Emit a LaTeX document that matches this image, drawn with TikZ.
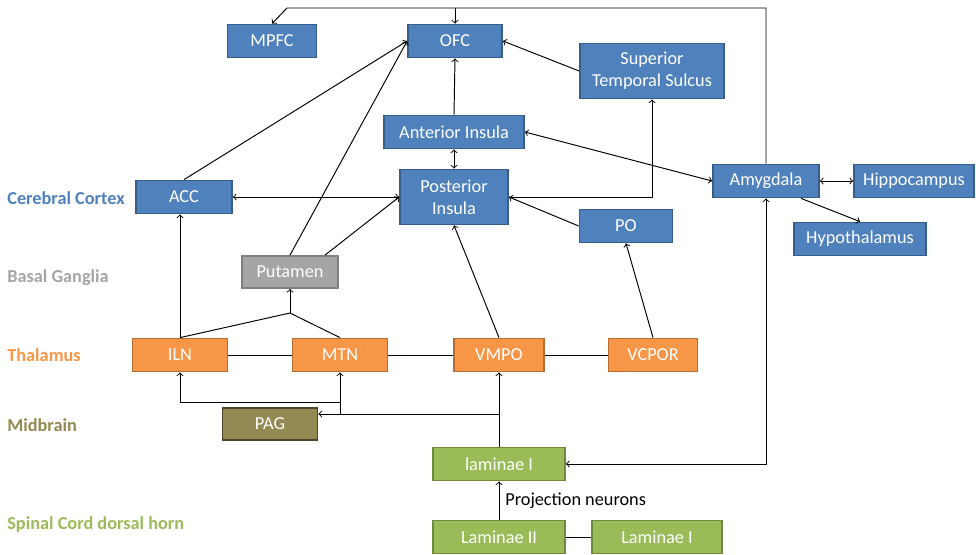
\documentclass[tikz,border=0pt]{standalone}
\usepackage{fontspec}
\setmainfont{Carlito}
\usetikzlibrary{calc}

\definecolor{cortexfill}{HTML}{4F81BD}
\definecolor{cortexline}{HTML}{385D8A}
\definecolor{gangfill}{HTML}{A5A5A5}
\definecolor{gangline}{HTML}{7F7F7F}
\definecolor{thalfill}{HTML}{F79646}
\definecolor{thalline}{HTML}{B66D31}
\definecolor{midfill}{HTML}{938953}
\definecolor{midline}{HTML}{4A452A}
\definecolor{spinefill}{HTML}{9BBB59}
\definecolor{spineline}{HTML}{71893F}

\tikzset{
  box/.style={rectangle, text=white, line width=1pt, inner sep=1pt,
    minimum height=0.66cm, align=center,
    font=\fontsize{10.4}{12.5}\selectfont},
  cortex/.style={box, fill=cortexfill, draw=cortexline},
  ganglia/.style={box, fill=gangfill, draw=gangline},
  thal/.style={box, fill=thalfill, draw=thalline},
  midb/.style={box, fill=midfill, draw=midline},
  spine/.style={box, fill=spinefill, draw=spineline},
  level/.style={anchor=west, inner sep=0pt, font=\fontsize{10.4}{12.5}\selectfont\bfseries},
  link/.style={line width=0.55pt, >=to},
}

\begin{document}
\begin{tikzpicture}[x=0.02cm, y=-0.02cm]
  \useasboundingbox (0,0) rectangle (976,554);

  % levels
  \node[level, text=cortexfill] (lcortex) at (7,198) {Cerebral Cortex};
  \node[level, text=gangfill] (lgang) at (7,278) {Basal Ganglia};
  \node[level, text=thalfill] (lthal) at (7,355) {Thalamus};
  \node[level, text=midfill] (lmid) at (7,425) {Midbrain};
  \node[level, text=spinefill] (lspine) at (7,525) {Spinal Cord dorsal horn};

  % cortex
  \node[cortex, minimum width=1.78cm] (mpfc) at (272,41) {MPFC};
  \node[cortex, minimum width=1.88cm] (ofc) at (455,41) {OFC};
  \node[cortex, minimum width=2.88cm, minimum height=1.1cm] (sts) at (652,71) {Superior\\Temporal Sulcus};
  \node[cortex, minimum width=2.8cm] (ai) at (454,132) {Anterior Insula};
  \node[cortex, minimum width=2.16cm, minimum height=1.1cm] (pi) at (454,197) {Posterior\\Insula};
  \node[cortex, minimum width=1.86cm] (po) at (626,226) {PO};
  \node[cortex, minimum width=1.92cm] (acc) at (184,197) {ACC};
  \node[cortex, minimum width=2.12cm] (amyg) at (766,181) {Amygdala};
  \node[cortex, minimum width=2.4cm] (hip) at (914,181) {Hippocampus};
  \node[cortex, minimum width=2.64cm] (hyp) at (860,239) {Hypothalamus};

  % basal ganglia, thalamus, midbrain
  \node[ganglia, minimum width=1.92cm, minimum height=0.64cm] (put) at (290,272) {Putamen};
  \node[thal, minimum width=1.9cm] (iln) at (180,355) {ILN};
  \node[thal, minimum width=1.9cm] (mtn) at (340,355) {MTN};
  \node[thal, minimum width=1.8cm] (vmpo) at (499,355) {VMPO};
  \node[thal, minimum width=1.78cm] (vcpor) at (653,355) {VCPOR};
  \node[midb, minimum width=1.9cm, minimum height=0.64cm] (pag) at (270,424) {PAG};

  % spinal cord
  \node[spine, minimum width=2.64cm] (lamI) at (499,464) {laminae I};
  \node[spine, minimum width=2.64cm] (lamII) at (499,537) {Laminae II};
  \node[spine, minimum width=2.6cm] (lamIb) at (657,537) {Laminae I};

  \coordinate (tr) at (766,8);
  \coordinate (tl) at (287,8);
  \coordinate (tofc) at (455,8);
  \coordinate (pj) at (290,313);
  \coordinate (sp) at (499,414);
  \coordinate (mp) at (340,414);
  \coordinate (ip) at (340,402);

  \draw[link,->] (amyg.north) -- (tr) -- (tl) -- (mpfc.north);
  \draw[link,->] (tofc) -- (ofc.north);
  \draw[link,->] (sts.west) -- (ofc.east);
  \draw[link,->] (acc.north) -- (ofc.west);
  \draw[link,->] (put.north) -- (ofc.west);
  \draw[link,->] ([xshift=0.7cm]put.north) -- (pi.west);
  \draw[link,<->] (acc.east) -- (pi.west);
  \draw[link,->] (ai.north) -- (ofc.south);
  \draw[link,<->] (ai.south) -- (pi.north);
  \draw[link,->] (pi.east) -| (sts.south);
  \draw[link,->] (po.west) -- (pi.east);
  \draw[link,<->] (amyg.west) -- (ai.east);
  \draw[link,<->] (amyg.east) -- (hip.west);
  \draw[link,->] ([xshift=0.7cm]amyg.south) -- (hyp.north);

  \draw[link,->] (iln.north) -- (iln.north |- acc.south);
  \draw[link] (iln.north) -- (pj) -- (mtn.north);
  \draw[link,->] (pj) -- (put.south);
  \draw[link] (iln) -- (mtn) -- (vmpo) -- (vcpor);
  \draw[link,->] (vmpo.north) -- (pi.south);
  \draw[link,->] (vcpor.north) -- (po.south);

  \draw[link,->] (lamI.north) -- (vmpo.south);
  \draw[link,->] (sp) -- (pag.east |- sp);
  \draw[link,->] (mp) -- (mtn.south);
  \draw[link,->] (ip) -| (iln.south);
  \draw[link,<->] (lamI.east) -| (amyg.south);
  \draw[link,->] (lamII.north) -- node[right] (proj) {\fontsize{10.4}{12.5}\selectfont Projection neurons} (lamI.south);
  \draw[link] (lamII) -- (lamIb);
\end{tikzpicture}
\end{document}
